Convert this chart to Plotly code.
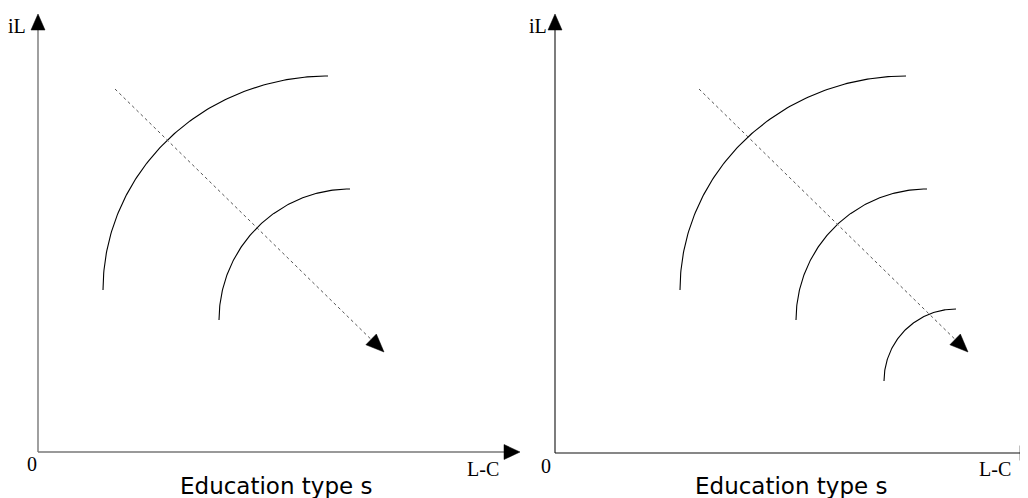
import numpy as np
import plotly.graph_objects as go

# ---- data (panel units: pixels measured from each panel's origin) ----
panels = ["left", "right"]
axis_x_tip = [482, 481]
axis_y_tip = [438, 439]
# arcs: (start_x, start_y, end_x, end_y)
arcs_left = [(65, 162, 290, 376), (181, 132, 312, 263)]
arcs_right = [(125, 163, 351, 377), (241, 133, 372, 264), (329, 72, 401, 144)]
# dotted shift arrows: (x0, y0, x1, y1)
shift_left = (77, 363, 346, 100)
shift_right = (144, 364, 413, 101)
y_label = "iL"
x_label = "L-C"
origin_label = "0"
panel_title = "Education type s"

# the page has an 8px body margin, so the figure is drawn 8px in from the corner
PAGE_OFF = 8
W, H = 1020, 490
origins = [(38 - PAGE_OFF, 452 - PAGE_OFF), (555 - PAGE_OFF, 453 - PAGE_OFF)]

fig = go.Figure()


def axes_names(i):
    return ("x", "y") if i == 0 else ("x2", "y2")


def arc_points(a):
    xs, ys, xe, ye = a
    t = np.linspace(0, np.pi / 2, 120)
    return xe - (xe - xs) * np.cos(t), ys + (ye - ys) * np.sin(t)


def head(tip, d, length, hw):
    d = np.array(d, float)
    d /= np.linalg.norm(d)
    n = np.array([-d[1], d[0]])
    tip = np.array(tip, float)
    b = tip - d * length
    p1 = b + n * hw
    p2 = b - n * hw
    return [p1[0], tip[0], p2[0], p1[0]], [p1[1], tip[1], p2[1], p1[1]]


def add_line(i, xs, ys, color, width, dash="solid"):
    xa, ya = axes_names(i)
    fig.add_trace(go.Scatter(x=xs, y=ys, mode="lines", xaxis=xa, yaxis=ya,
                             line=dict(color=color, width=width, dash=dash),
                             hoverinfo="skip", showlegend=False))


def add_head(i, tip, d, length, hw):
    xa, ya = axes_names(i)
    hx, hy = head(tip, d, length, hw)
    fig.add_trace(go.Scatter(x=hx, y=hy, mode="lines", fill="toself", xaxis=xa, yaxis=ya,
                             fillcolor="black", line=dict(color="black", width=0.5),
                             hoverinfo="skip", showlegend=False))


axis_colors = ["#777777", "#111111"]
axis_widths = [1.4, 1.1]
for i in range(2):
    c = axis_colors[i]
    add_line(i, [0, 0], [0, axis_y_tip[i] - 14], c, axis_widths[i])
    add_line(i, [0, axis_x_tip[i] - 14], [0, 0], c, axis_widths[i])
    add_head(i, (0, axis_y_tip[i]), (0, 1), 16, 7)
    add_head(i, (axis_x_tip[i], 0), (1, 0), 16, 7.5)

for i, arcs in enumerate([arcs_left, arcs_right]):
    for a in arcs:
        ax_, ay_ = arc_points(a)
        add_line(i, ax_, ay_, "black", 1.1)

for i, s in enumerate([shift_left, shift_right]):
    x0, y0, x1, y1 = s
    d = (x1 - x0, y1 - y0)
    dn = np.array(d, float) / np.hypot(*d)
    add_line(i, [x0, x1 - dn[0] * 12], [y0, y1 - dn[1] * 12], "#555555", 1.0, "dot")
    add_head(i, (x1, y1), d, 18, 7.5)

serif = dict(family="Liberation Serif, Times New Roman, serif", size=20, color="black")
sans = dict(family="DejaVu Sans, sans-serif", size=23, color="black")
label_pos = [
    dict(iL=(-21, 426), zero=(-6.5, -12), lc=(445, -17), title=(238, -34)),
    dict(iL=(-17, 427), zero=(-9, -13), lc=(440, -16), title=(236, -33)),
]
for i in range(2):
    xa, ya = axes_names(i)
    p = label_pos[i]
    for key, txt, f in [("iL", y_label, serif), ("zero", origin_label, serif),
                        ("lc", x_label, serif), ("title", panel_title, sans)]:
        fig.add_annotation(x=p[key][0], y=p[key][1], xref=xa, yref=ya, text=txt,
                           showarrow=False, font=f, xanchor="center", yanchor="middle")

ox0, oy0 = origins[0]
ox1, oy1 = origins[1]
fig.update_layout(
    width=W, height=H, margin=dict(l=0, r=0, t=0, b=0),
    paper_bgcolor="white", plot_bgcolor="white",
    xaxis=dict(domain=[0, 1], range=[-ox0, W - ox0], visible=False, fixedrange=True),
    yaxis=dict(domain=[0, 1], range=[-(H - oy0), oy0], visible=False, fixedrange=True),
    xaxis2=dict(overlaying="x", range=[-ox1, W - ox1], visible=False, fixedrange=True),
    yaxis2=dict(overlaying="y", range=[-(H - oy1), oy1], visible=False, fixedrange=True),
)

fig.write_html("out.html")
